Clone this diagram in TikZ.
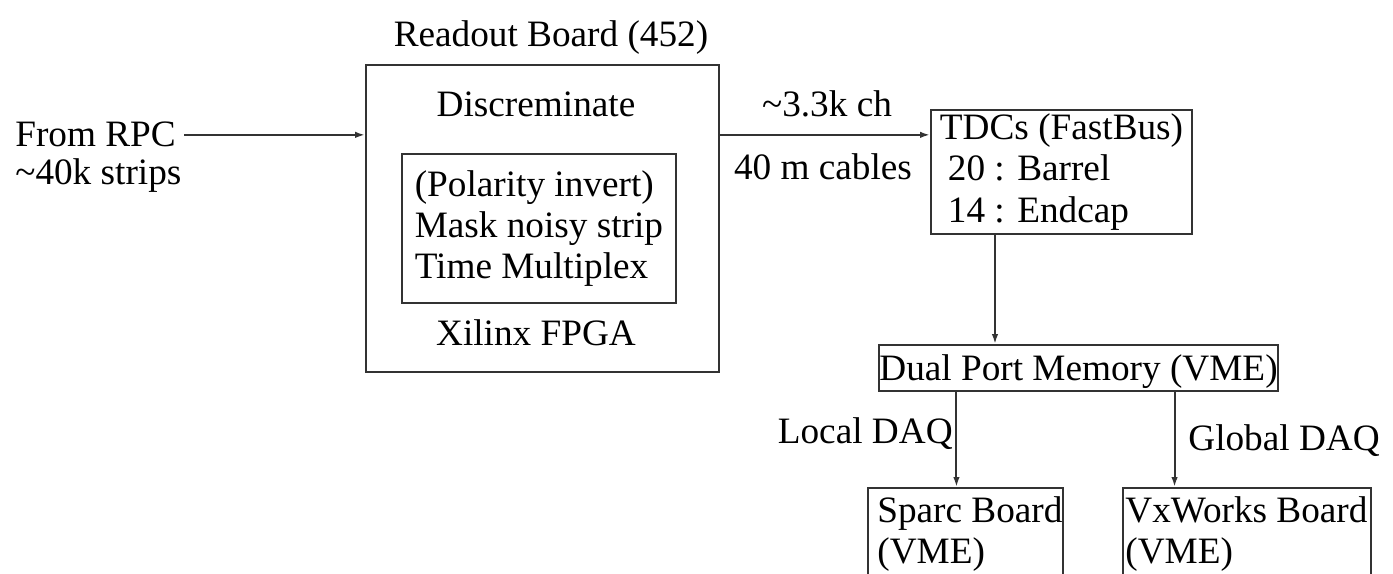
\documentclass[tikz,border=0pt]{standalone}
\usepackage{fontspec}
\setmainfont{Liberation Serif}
\usetikzlibrary{arrows.meta,calc}

\begin{document}
\begin{tikzpicture}[
    x=0.02cm, y=-0.02cm,
    lbl/.style={inner sep=0pt, font=\fontsize{21.2pt}{23.4pt}\selectfont},
    box/.style={rectangle, draw=black!80, line width=1.1pt, inner sep=0pt, font=\fontsize{21.2pt}{23.4pt}\selectfont},
    arrow/.style={-{Latex[length=0.2cm,width=0.13cm]}, draw=black!80, line width=1.1pt}
]

\useasboundingbox (0,0) rectangle (1393,574);
\clip (0,0) rectangle (1393,574);

% Readout board
\node[lbl, anchor=base] (title) at (551,47) {Readout Board (452)};
\node[box, minimum width=7.06cm, minimum height=6.14cm] (readout) at (542.5,218.5) {};
\node[lbl, anchor=base] (disc) at (536,117) {Discreminate};
\node[box, anchor=north west, align=left, minimum width=5.48cm, minimum height=2.98cm] (fpga) at (401,153) {(Polarity invert)\\Mask noisy strip\\Time Multiplex};
\node[lbl, anchor=base] (xilinx) at (536,345) {Xilinx FPGA};

% Input from the chambers
\node[lbl, anchor=base west] (from) at (15,147) {From RPC};
\node[lbl, anchor=base west] (strips) at (15,185) {\textasciitilde40k strips};

% TDCs
\node[box, anchor=north west, align=left, inner xsep=0.18cm, inner ysep=0.08cm] (tdc) at (930,109) {TDCs (FastBus)\\\hspace*{0.16cm}20 : Barrel\\\hspace*{0.16cm}14 : Endcap};

% Cable labels
\node[lbl, anchor=base] (chan) at (827,117) {\textasciitilde3.3k ch};
\node[lbl, anchor=base] (cable) at (823,180) {40 m cables};

% Memory and boards
\node[box, minimum width=7.78cm, minimum height=0.92cm, text depth=0pt] (dual) at (1078.5,368) {Dual Port Memory (VME)};
\node[box, anchor=north west, minimum width=3.9cm, minimum height=2.6cm] (sparc) at (867,487) {};
\node[lbl, anchor=north west, align=left] (sparctxt) at (877,496) {Sparc Board\\(VME)};
\node[box, anchor=north west, minimum width=4.96cm, minimum height=2.6cm] (vx) at (1122,487) {};
\node[lbl, anchor=north west, align=left] (vxtxt) at (1125,496) {VxWorks Board\\(VME)};

% DAQ labels
\node[lbl, anchor=base east] (local) at (953,443) {Local DAQ};
\node[lbl, anchor=base west] (global) at (1188,450) {Global DAQ};

% Arrows
\coordinate (tdcdown) at ($(tdc.south west)!0.247!(tdc.south east)$);
\coordinate (dualL) at ($(dual.south west)!0.195!(dual.south east)$);
\coordinate (dualR) at ($(dual.south west)!0.74!(dual.south east)$);
\draw[arrow] ([xshift=0.16cm]from.east) -- (from.east -| readout.west);
\draw[arrow] (readout.east |- from.east) -- (tdc.west |- from.east);
\draw[arrow] (tdcdown) -- (tdcdown |- dual.north);
\draw[arrow] (dualL) -- (dualL |- sparc.north);
\draw[arrow] (dualR) -- (dualR |- vx.north);

\end{tikzpicture}
\end{document}
